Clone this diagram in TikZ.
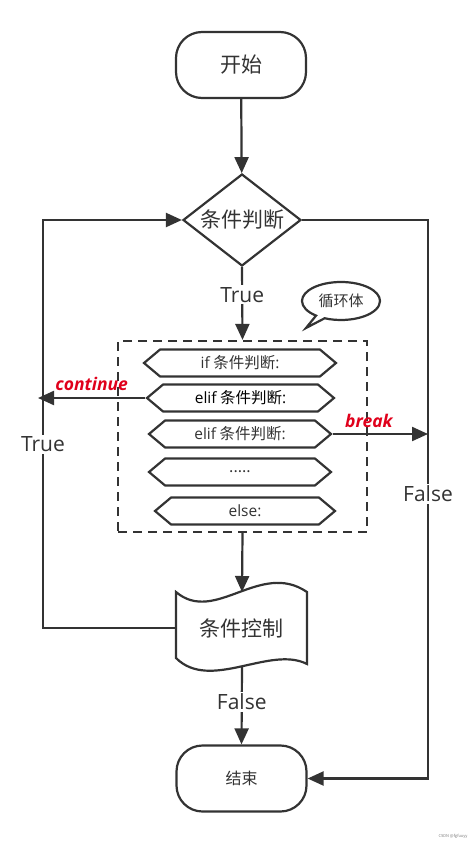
\documentclass[tikz,border=0pt]{standalone}
\usepackage{fontspec}
\setmainfont{Noto Sans CJK SC}
\newfontfamily\latinfont{Open Sans}
\usetikzlibrary{shapes.geometric,shapes.symbols,shapes.callouts,arrows.meta}
\definecolor{ink}{HTML}{333333}
\definecolor{brk}{HTML}{E0001B}
\newcommand{\lt}[1]{{\latinfont #1}}
\begin{document}
\begin{tikzpicture}[x=1pt,y=-1pt,line width=2.2pt,draw=ink,text=ink,
  arr/.style={-{Triangle[length=16pt,width=14pt]}},
  term/.style={draw,rounded corners=26pt,minimum width=130pt,minimum height=66pt,inner sep=0pt},
  dec/.style={draw,diamond,aspect=1.28,minimum width=118pt,minimum height=92pt,inner sep=0pt,font=\fontsize{21}{24}\selectfont},
  hexa/.style={draw,signal,signal to=west and east,signal pointer angle=80,minimum height=27pt,inner sep=0pt,font=\fontsize{15.5}{17}\selectfont},
  lbl/.style={fill=white,inner sep=2pt,font=\latinfont\fontsize{21}{24}\selectfont},
  red/.style={text=brk,font=\latinfont\fontsize{17.5}{19}\selectfont\bfseries\itshape}]
\useasboundingbox (0,0) rectangle (474,845);
\node[term,font=\fontsize{21}{24}\selectfont] (start) at (241,65) {开始};
\node[dec] (cond) at (242,220) {条件判断};
\node[draw,dashed,dash pattern=on 9pt off 6pt,minimum width=249pt,minimum height=191pt,inner sep=0pt] (box) at (242.5,436.5) {};
\node[hexa,minimum width=192pt] (h1) at (240,363) {\lt{if} 条件判断\lt{:}};
\node[hexa,minimum width=187pt,text=black] (h2) at (240.5,398) {\lt{elif} 条件判断\lt{:}};
\node[hexa,minimum width=182pt] (h3) at (240,434) {\lt{elif} 条件判断\lt{:}};
\node[hexa,minimum width=182pt] (h4) at (240,472) {.....};
\node[hexa,minimum width=180pt] (h5) at (245,511) {\lt{else:}};
\node[draw,ellipse callout,callout absolute pointer={(306,328)},minimum width=78pt,minimum height=38pt,inner sep=0pt,font=\fontsize{15}{17}\selectfont] (bub) at (341,301) {循环体};
\node[minimum width=131pt,minimum height=76pt,inner sep=0pt,font=\fontsize{21}{24}\selectfont] (ctrl) at (241.5,628) {条件控制};
\coordinate (ctop) at (242,592);
\coordinate (cbot) at (242,667);
\draw (176,592) .. controls (215,625) and (260,560) .. (307,592) -- (307,664)
  .. controls (270,645) and (210,692) .. (176,658) -- cycle;
\node[term,font=\fontsize{16}{18}\selectfont] (end) at (241.5,778.5) {结束};
\coordinate (contEnd) at (38,398);
\coordinate (brkEnd) at (428,434);
% connectors
\draw[arr] (start) -- (cond);
\draw[arr] (cond.south) -- node[lbl,pos=0.38]{True} (box.north);
\draw[arr] (h2.west) -- node[red,above,pos=0.5,yshift=3pt]{continue} (contEnd);
\draw[arr] (h3.east) -- node[red,above,pos=0.38,yshift=2pt]{break} (brkEnd);
\draw[arr] (ctrl.west) -- (43,628) -- node[lbl,pos=0.45]{True} (43,220) -- (cond.west);
\draw[arr] (cond.east) -- (428,220) -- node[lbl,pos=0.49]{False} (428,778.5) -- (end.east);
\draw[arr] (box.south) -- (ctop);
\draw[arr] (cbot) -- node[lbl,pos=0.45]{False} (end.north);
\node[text=gray,font=\fontsize{4}{5}\selectfont,anchor=east] (wm) at (472,836) {CSDN @fgfuuyy};
\end{tikzpicture}
\end{document}
